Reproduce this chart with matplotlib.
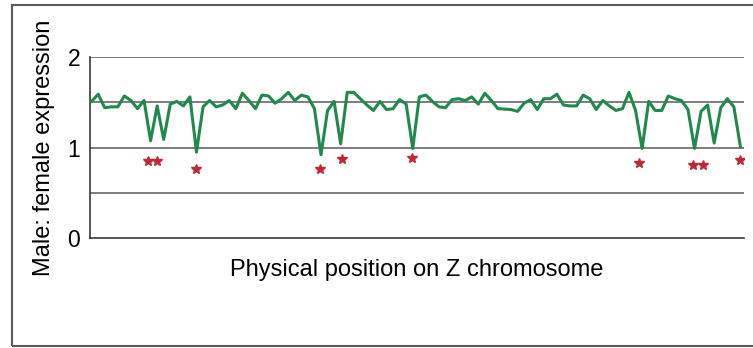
import numpy as np
import matplotlib.pyplot as plt
from matplotlib.patches import Rectangle

plt.rcParams["font.family"] = ["Liberation Sans", "DejaVu Sans"]

# male:female expression ratio along the Z chromosome (one value per gene window)
ratio = [
    1.51, 1.59, 1.44, 1.45, 1.45, 1.57, 1.52, 1.43, 1.52, 1.075,
    1.46, 1.09, 1.48, 1.51, 1.46, 1.56, 0.95, 1.45, 1.52, 1.45,
    1.47, 1.52, 1.43, 1.60, 1.52, 1.43, 1.58, 1.57, 1.49, 1.54,
    1.61, 1.52, 1.58, 1.56, 1.43, 0.92, 1.41, 1.51, 1.04, 1.61,
    1.61, 1.54, 1.47, 1.41, 1.51, 1.42, 1.43, 1.53, 1.48, 0.99,
    1.56, 1.58, 1.51, 1.45, 1.44, 1.53, 1.54, 1.52, 1.56, 1.48,
    1.60, 1.52, 1.43, 1.425, 1.42, 1.40, 1.49, 1.53, 1.42, 1.54,
    1.54, 1.59, 1.47, 1.46, 1.46, 1.58, 1.54, 1.42, 1.52, 1.46,
    1.41, 1.43, 1.61, 1.41, 0.99, 1.51, 1.41, 1.41, 1.57, 1.54,
    1.52, 1.42, 0.99, 1.40, 1.47, 1.05, 1.44, 1.54, 1.45, 1.01,
]
position = np.arange(len(ratio))

# significance stars below the dips
star_pos = [8.6, 10.0, 16.0, 34.9, 38.2, 48.9, 83.6, 91.8, 93.3, 99.0]
star_y = [0.85, 0.85, 0.76, 0.76, 0.87, 0.89, 0.83, 0.81, 0.81, 0.86]

grid_levels = [0.5, 1.0, 1.5, 2.0]
tick_vals = [0, 1, 2]

fig = plt.figure(figsize=(7.53, 3.48), dpi=100)
ax = fig.add_axes([0.1195, 0.316, 0.869, 0.52])

for g in grid_levels:
    ax.axhline(g, color="#5a5a5a", lw=1.1, zorder=1)

ax.plot(position, ratio, color="#1f8a4c", lw=2.2, zorder=3)
ax.plot(star_pos, star_y, ls="none", marker="*", ms=7,
        color="#c0283a", mec="#c0283a", zorder=3)

ax.set_xlim(-0.25, 99.6)
ax.set_ylim(0, 2)
ax.set_xticks([])
ax.set_yticks(tick_vals)
ax.set_yticklabels([str(v) for v in tick_vals])
ax.tick_params(axis="y", length=0, pad=7, labelsize=16.5)

for s in ["top", "right"]:
    ax.spines[s].set_visible(False)
for s in ["left", "bottom"]:
    ax.spines[s].set_color("#3a3a3a")
    ax.spines[s].set_linewidth(1.2)

ax.set_ylabel("Male: female expression", fontsize=17, labelpad=9)
ax.set_xlabel("Physical position on Z chromosome", fontsize=17, labelpad=15)

# outer frame of the figure panel
fig.patches.append(Rectangle((0.016, 0.006), 1.0, 0.98,
                             transform=fig.transFigure, fill=False,
                             edgecolor="#5a5a5a", lw=1.5))

fig.savefig("out.png", dpi=100)
